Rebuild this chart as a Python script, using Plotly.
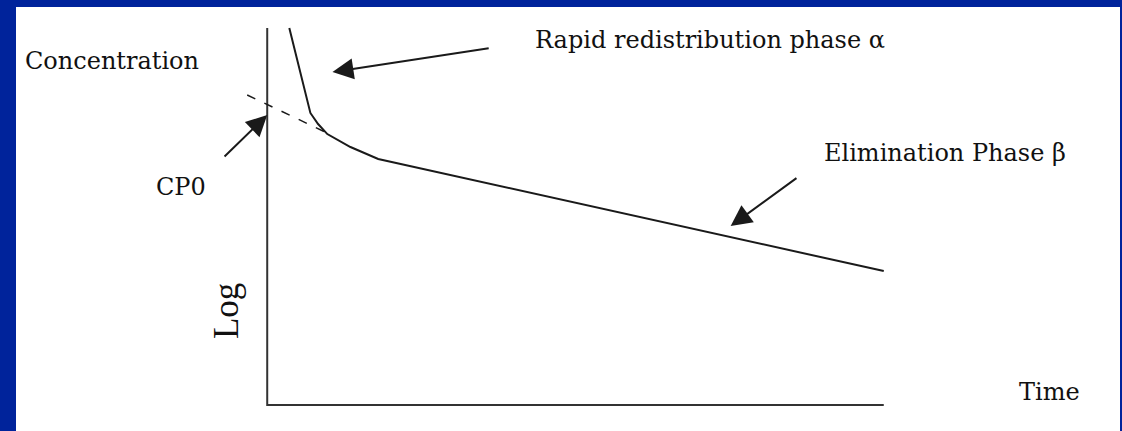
import plotly.graph_objects as go

# schematic log-concentration vs time curve (two-compartment model)
curve_time = [0.43, 0.58, 0.84, 0.99, 1.17, 1.62, 2.16, 12.0]
curve_logc = [3.00, 2.745, 2.324, 2.236, 2.156, 2.053, 1.958, 1.066]

# back-extrapolation of the elimination line towards the y axis (CP0)
extrap_time = [-0.39, 1.17]
extrap_logc = [2.467, 2.164]

# the L-shaped axes
axis_time = [0, 0, 12]
axis_logc = [3, 0, 0]

label_text = ["Concentration", "Rapid redistribution phase α", "Elimination Phase β", "CP0", "Time"]
label_time = [-3.02, 8.61, 13.19, -1.68, 15.23]
label_logc = [2.737, 2.905, 2.005, 1.735, 0.103]

arrow_tip_time = [1.27, 0.0, 9.02]
arrow_tip_logc = [2.650, 2.308, 1.424]
arrow_tail_time = [4.34, -0.86, 10.33]
arrow_tail_logc = [2.841, 1.966, 1.814]

INK = "#1a1a1a"
BLUE = "#00239B"
FONT = "DejaVu Serif"

fig = go.Figure()

fig.add_trace(go.Scatter(x=axis_time, y=axis_logc, mode="lines",
                         line=dict(color="#333333", width=2), hoverinfo="skip"))
fig.add_trace(go.Scatter(x=curve_time, y=curve_logc, mode="lines",
                         line=dict(color=INK, width=2), hoverinfo="skip"))
fig.add_trace(go.Scatter(x=extrap_time, y=extrap_logc, mode="lines",
                         line=dict(color=INK, width=1.5, dash="9px,10px"), hoverinfo="skip"))

for txt, tx, ty in zip(label_text, label_time, label_logc):
    fig.add_annotation(x=tx, y=ty, text=txt, showarrow=False,
                       font=dict(family=FONT, size=24, color="#111111"))

fig.add_annotation(x=-0.80, y=0.748, text="Log", showarrow=False, textangle=-90,
                   font=dict(family="Liberation Serif", size=35, color="#111111"))

for hx, hy, tx, ty in zip(arrow_tip_time, arrow_tip_logc, arrow_tail_time, arrow_tail_logc):
    fig.add_annotation(x=hx, y=hy, ax=tx, ay=ty, xref="x", yref="y", axref="x", ayref="y",
                       text="", showarrow=True, arrowhead=2, arrowsize=2.1,
                       arrowwidth=2, arrowcolor=INK, standoff=0)

fig.update_xaxes(range=[-4.8896, 16.598], visible=False)
fig.update_yaxes(range=[-0.2069, 3.1671], visible=False)

fig.update_layout(
    width=1122, height=431,
    margin=dict(l=16, r=2, t=7, b=0),
    paper_bgcolor=BLUE,
    plot_bgcolor="white",
    showlegend=False,
)

# drop the default page margin so the figure sits flush in the window
fig.write_html("out.html", config={"displayModeBar": False},
               post_script="document.body.style.margin='0';document.body.style.overflow='hidden';")
